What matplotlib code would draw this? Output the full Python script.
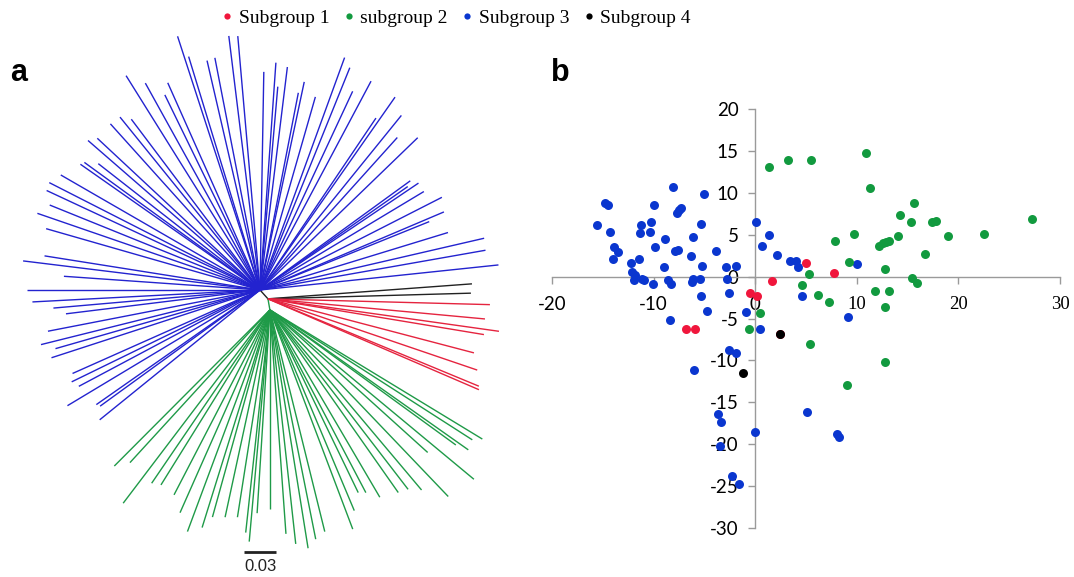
import numpy as np
import matplotlib
matplotlib.use("Agg")
import matplotlib.pyplot as plt
from matplotlib.lines import Line2D

# --- Colours ---
tree_cols = {"red": "#e5243f", "green": "#1f9a48", "blue": "#2323cf", "black": "#222222"}
dot_cols = {"red": "#f0163c", "green": "#129a3f", "blue": "#0a36cf", "black": "#000000"}

# ===============================================================
# a) Unrooted tree: tip angle (deg) and branch length from subgroup node
# ===============================================================
blue_ang = [108, 107, 103, 101, 97, 95, 122, 119, 114, 116, 89, 86, 85, 83, 78, 79, 74, 70, 68, 65,
            62, 55, 51, 56, 48, 44, 139, 137, 132, 129, 127, 145, 144, 142, 150, 153, 155, 158, 161, 164,
            36, 35, 34, 31, 27, 23, 22, 17, 13, 10, 6, 173, 171, 176, 180, -177, -175, -173, -169, -166,
            -164, -162, -156, -154, -152, -149, -145, -144, -141]
blue_len = [0.247, 0.226, 0.218, 0.219, 0.237, 0.236, 0.234, 0.219, 0.210, 0.201, 0.202, 0.211, 0.189,
            0.208, 0.197, 0.186, 0.186, 0.229, 0.222, 0.203, 0.219, 0.218, 0.208, 0.192, 0.190, 0.203,
            0.211, 0.206, 0.207, 0.206, 0.198, 0.203, 0.201, 0.190, 0.213, 0.219, 0.218, 0.210, 0.218,
            0.206, 0.172, 0.167, 0.177, 0.177, 0.189, 0.185, 0.169, 0.182, 0.213, 0.212, 0.222, 0.221,
            0.202, 0.182, 0.216, 0.211, 0.192, 0.181, 0.200, 0.209, 0.197, 0.203, 0.190, 0.194, 0.190,
            0.208, 0.185, 0.183, 0.191]
black_ang = [4.2, 1.6]
black_len = [0.1894, 0.188]
red_ang = [-1.5, -5.3, -8.0, -9.4, -14.7, -18.8, -22.5, -23.3]
red_len = [0.2056, 0.2018, 0.216, 0.2027, 0.1972, 0.2047, 0.2114, 0.2127]
green_ang = [-134.9, -132.5, -127.2, -124.3, -121.9, -117.4, -113.9, -110.4, -107.3, -105.5, -102.2,
             -98.9, -96.2, -95.1, -93.6, -90.0, -85.9, -83.7, -80.9, -78.7, -76.1, -69.3, -67.2, -64.2,
             -62.3, -59.6, -54.9, -52.4, -49.9, -46.3, -42.1, -36.0, -35.2, -32.7, -31.3, -39.7]
green_len = [0.2041, 0.1918, 0.2247, 0.1943, 0.1909, 0.1929, 0.2054, 0.219, 0.2111, 0.1991, 0.1964,
             0.1943, 0.2074, 0.2154, 0.1886, 0.1845, 0.2079, 0.218, 0.2235, 0.2165, 0.2115, 0.217,
             0.2016, 0.1879, 0.1911, 0.2011, 0.2067, 0.2097, 0.218, 0.239, 0.1969, 0.2128, 0.2248,
             0.2227, 0.2302, 0.2455]
# internal branches: blue node -> red/black node -> green node
inner_ang = [-48, -80]
inner_len = [0.011, 0.0104]
scale_len = 0.03

# ===============================================================
# b) PCA scatter per subgroup
# ===============================================================
blue_x = [-15.6, -14.75, -14.5, -14.3, -13.9, -13.5, -14.0, -12.2, -11.4, -12.1, -11.8, -11.9, -11.1, -10.9,
          -11.2, -11.3, -10.3, -10.4, -10.0, -9.9, -10.1, -9.0, -8.9, -8.6, -8.3, -8.1, -7.9, -7.6, -7.7,
          -7.5, -7.3, -6.3, -6.1, -6.2, -6.1, -5.4, -5.3, -5.2, -5.0, -3.9, -2.9, -2.8, -1.85,
          0.1, 0.7, 1.4, 2.1, 3.4, 4.0, 4.2, 4.6, 10.0, 9.1,
          -5.3, -2.6, -4.7, -8.4, -0.9, 0.5, -2.6, -1.9, -6.0, -3.7, -3.4, 0.0, -3.5, -2.3, -1.6, 5.1, 8.1, 8.2]
blue_y = [6.2, 8.8, 8.6, 5.3, 3.5, 2.9, 2.1, 1.6, 2.1, 0.6, 0.2, -0.4, -0.3, -0.4,
          6.2, 5.2, 6.5, 5.3, 8.5, 3.5, -0.9, 1.2, 4.5, -0.4, -0.9, 10.7, 3.1, 3.2, 7.6,
          7.9, 8.2, 2.5, 4.7, -0.6, -0.3, -0.3, 6.3, 1.3, 9.8, 3.0, 1.2, -0.3, 1.3,
          6.5, 3.7, 5.0, 2.6, 1.9, 1.9, 1.2, -2.3, 1.5, -4.8,
          -2.3, -2.0, -4.1, -5.2, -4.2, -6.3, -8.8, -9.1, -11.2, -16.4, -17.3, -18.5, -20.2, -23.8, -24.7,
          -16.1, -18.8, -19.2]
green_x = [1.4, 3.2, 5.5, 10.9, 11.3, 15.6, 14.3, 15.3, 17.4, 17.8, 27.2, 9.7, 7.9, 14.1, 18.95, 22.5,
           12.2, 12.6, 12.9, 13.2, 16.7, 9.2, 12.8, 5.3, 15.4, 15.9, 4.6, 6.2, 7.3, 11.8, 13.2, 12.8,
           0.5, -0.6, 5.4, 12.8, 9.0]
green_y = [13.1, 13.9, 13.9, 14.7, 10.6, 8.8, 7.4, 6.5, 6.5, 6.6, 6.9, 5.05, 4.25, 4.8, 4.8, 5.05,
           3.7, 4.0, 4.1, 4.2, 2.7, 1.7, 0.9, 0.3, -0.2, -0.8, -1.0, -2.2, -3.0, -1.7, -1.7, -3.6,
           -4.4, -6.2, -8.0, -10.2, -12.9]
red_x = [5.0, 7.8, 1.7, -0.5, 0.2, -6.8, -5.9, 2.4]
red_y = [1.6, 0.4, -0.5, -2.0, -2.3, -6.2, -6.3, -6.9]
black_x = [2.4, -1.25]
black_y = [-6.8, -11.5]

x_ticks = [-20, -10, 0, 10, 20, 30]
y_ticks = [20, 15, 10, 5, 0, -5, -10, -15, -20, -25, -30]
legend_labels = ["Subgroup 1", "subgroup 2", "Subgroup 3", "Subgroup 4"]

W, H = 1074, 577
fig = plt.figure(figsize=(W / 100, H / 100), dpi=100)

# --- Panel a: tree ---
S = 1080.0  # pixels per unit of branch length
axt = fig.add_axes([0, 0, 530 / W, 1])
axt.set_xlim(-260 / S, 270 / S)
axt.set_ylim(-(H - 290) / S, 290 / S)
axt.axis("off")


def polar(origin, ang, ln):
    a = np.radians(np.asarray(ang, dtype=float))
    ln = np.asarray(ln, dtype=float)
    return origin[0] + ln * np.cos(a), origin[1] + ln * np.sin(a)


node_b = (0.0, 0.0)
rx, ry = polar(node_b, inner_ang[0], inner_len[0])
node_r = (float(rx), float(ry))
gx, gy = polar(node_r, inner_ang[1], inner_len[1])
node_g = (float(gx), float(gy))

axt.plot([node_b[0], node_r[0]], [node_b[1], node_r[1]], color=tree_cols["black"], lw=1.0)
axt.plot([node_r[0], node_g[0]], [node_r[1], node_g[1]], color=tree_cols["green"], lw=1.0)

for name, ang, ln, node in [("blue", blue_ang, blue_len, node_b),
                            ("black", black_ang, black_len, node_r),
                            ("red", red_ang, red_len, node_r),
                            ("green", green_ang, green_len, node_g)]:
    tx, ty = polar(node, ang, ln)
    for x, y in zip(tx, ty):
        axt.plot([node[0], x], [node[1], y], color=tree_cols[name], lw=1.0, solid_capstyle="butt")

# scale bar
sb_x0 = -16 / S
sb_y = -262 / S
axt.plot([sb_x0, sb_x0 + scale_len], [sb_y, sb_y], color="#222222", lw=2.0, solid_capstyle="butt")
axt.text(sb_x0 + scale_len / 2, sb_y - 7 / S, "0.03", ha="center", va="top",
         fontsize=12, family="Liberation Sans", color="#222222")

# --- Panel b: scatter ---
x0, x1 = 552, 1060
y0, y1 = 109, 528
axs = fig.add_axes([x0 / W, 1 - y1 / H, (x1 - x0) / W, (y1 - y0) / H])
axs.set_xlim(-20, 30)
axs.set_ylim(-30, 20)
axs.scatter(blue_x, blue_y, s=42, color=dot_cols["blue"], linewidths=0, zorder=3)
axs.scatter(green_x, green_y, s=42, color=dot_cols["green"], linewidths=0, zorder=3)
axs.scatter(red_x, red_y, s=42, color=dot_cols["red"], linewidths=0, zorder=3)
axs.scatter(black_x, black_y, s=42, color=dot_cols["black"], linewidths=0, zorder=3)

for side in ["top", "right"]:
    axs.spines[side].set_visible(False)
for side in ["left", "bottom"]:
    axs.spines[side].set_position(("data", 0))
    axs.spines[side].set_color("#9a9a9a")
    axs.spines[side].set_linewidth(1.0)
axs.set_xticks(x_ticks)
axs.set_yticks(y_ticks)
axs.set_xticklabels([str(t) for t in x_ticks])
axs.set_yticklabels([str(t) for t in y_ticks])
axs.tick_params(direction="out", length=5, width=1, color="#9a9a9a", labelsize=13.5)
axs.tick_params(axis="y", pad=7)
axs.tick_params(axis="x", pad=9)
for lbl in axs.get_yticklabels():
    lbl.set_fontfamily("Lato")
for t, lbl in zip(x_ticks, axs.get_xticklabels()):
    lbl.set_fontfamily("Liberation Serif" if t > 0 else "Lato")
axs.set_facecolor("none")

# --- Panel letters ---
fig.text(10 / W, 1 - 73 / H, "a", fontsize=22, fontweight="bold", family="Liberation Sans", va="center")
fig.text(551 / W, 1 - 73 / H, "b", fontsize=22, fontweight="bold", family="Liberation Sans", va="center")

# --- Legend ---
handles = [Line2D([], [], marker="o", ls="none", markersize=4.5, color=dot_cols[c], markeredgewidth=0)
           for c in ["red", "green", "blue", "black"]]
fig.legend(handles, legend_labels, loc="center", bbox_to_anchor=(456 / W, 1 - 18 / H), ncol=4,
           frameon=False, prop={"family": "Liberation Serif", "size": 14},
           handlelength=0.6, handletextpad=0.3, columnspacing=0.7, borderpad=0)

fig.savefig("out.png", dpi=100)
